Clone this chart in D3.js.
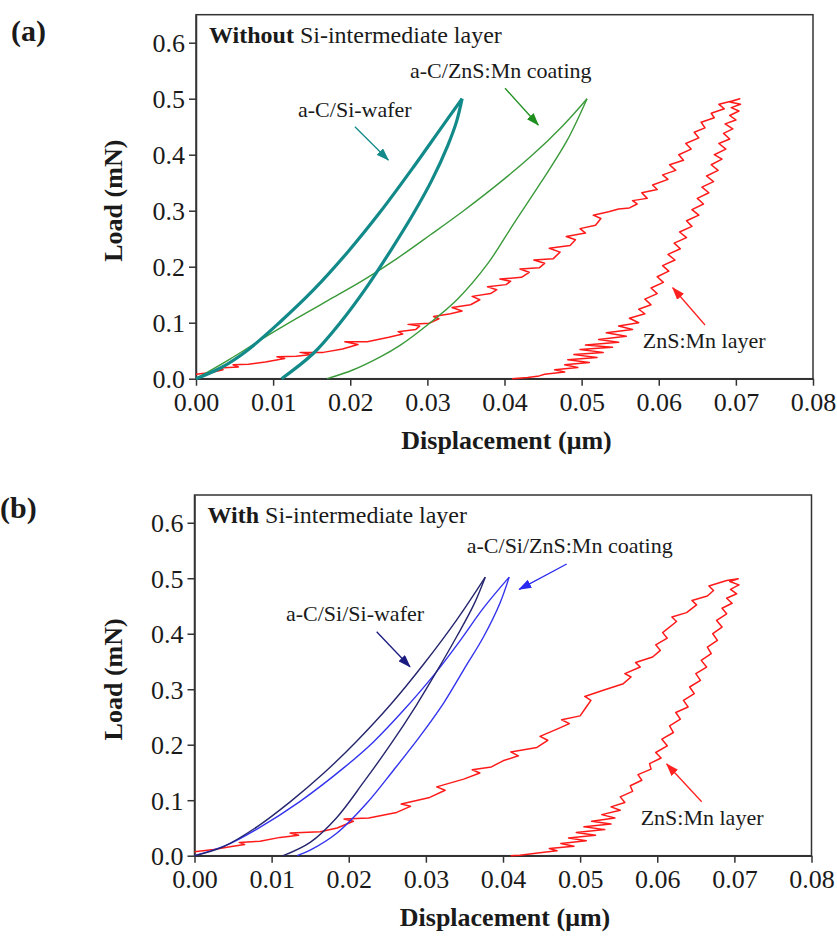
<!DOCTYPE html>
<html>
<head>
<meta charset="utf-8">
<script src="https://cdn.jsdelivr.net/npm/d3@7/dist/d3.min.js"></script>
<style>
  body { margin: 0; background: #fff; }
  svg text { font-family: "Liberation Serif", "Times New Roman", serif; fill: #1a1a1a; }
</style>
</head>
<body>
<svg id="chart" width="837" height="938"></svg>
<script>
'use strict';

// tick values
var xTicks = [0, 0.01, 0.02, 0.03, 0.04, 0.05, 0.06, 0.07, 0.08];
var yTicks = [0, 0.1, 0.2, 0.3, 0.4, 0.5, 0.6];

// (a) without Si-intermediate layer  -- [displacement um, load mN]
var aCSiWaferLoad = [[0,0],[0.0033,0.02],[0.0066,0.05],[0.0108,0.1],[0.0152,0.158],[0.0196,0.225],
  [0.0239,0.298],[0.0282,0.378],[0.0318,0.448],[0.0345,0.5]];
var aCSiWaferUnload = [[0.0345,0.5],[0.0338,0.46],[0.0326,0.415],[0.0306,0.355],[0.0282,0.295],
  [0.0252,0.228],[0.0222,0.165],[0.0187,0.10],[0.0152,0.045],[0.0111,0]];
var aCZnSLoad = [[0,0],[0.0044,0.035],[0.0087,0.072],[0.0131,0.108],[0.0174,0.142],[0.0217,0.176],
  [0.0261,0.215],[0.0304,0.257],[0.0347,0.300],[0.0391,0.347],[0.0435,0.398],[0.0475,0.451],[0.0507,0.5]];
var aCZnSUnload = [[0.0507,0.5],[0.0481,0.425],[0.0447,0.35],[0.0412,0.277],[0.0378,0.205],
  [0.0339,0.142],[0.030,0.096],[0.0265,0.06],[0.0239,0.039],[0.0204,0.016],[0.017,0]];
var znsLayerA = [[0,0.008],[0.002,0.011],[0.0035,0.016],[0.003,0.019],[0.0055,0.021],[0.0048,0.025],
  [0.0068,0.026],[0.009,0.03],[0.0115,0.036],[0.0105,0.039],[0.013,0.04],[0.015,0.043],[0.0135,0.047],
  [0.0165,0.047],[0.019,0.053],[0.021,0.061],[0.0193,0.066],[0.0222,0.066],[0.025,0.074],[0.0268,0.08],
  [0.0262,0.084],[0.0285,0.088],[0.029,0.094],[0.0275,0.097],[0.0302,0.099],[0.0315,0.107],[0.0308,0.111],
  [0.033,0.116],[0.0345,0.121],[0.0332,0.127],[0.0356,0.132],[0.0368,0.141],[0.0358,0.147],[0.0382,0.152],
  [0.039,0.159],[0.0378,0.164],[0.0402,0.168],[0.0408,0.174],[0.0394,0.178],[0.0422,0.181],[0.0432,0.19],
  [0.042,0.196],[0.0445,0.198],[0.0452,0.206],[0.0438,0.212],[0.0463,0.214],[0.0472,0.226],[0.0458,0.233],
  [0.0485,0.238],[0.0492,0.248],[0.048,0.254],[0.0505,0.26],[0.0498,0.268],[0.0518,0.274],[0.0525,0.286],
  [0.0515,0.292],[0.0535,0.298],[0.0548,0.303],[0.0562,0.305],[0.0572,0.312],[0.0566,0.318],[0.0585,0.322],
  [0.0578,0.332],[0.0598,0.338],[0.0592,0.346],[0.0612,0.356],[0.0605,0.364],[0.0622,0.372],[0.0614,0.382],
  [0.0632,0.39],[0.0626,0.4],[0.0642,0.41],[0.0635,0.42],[0.0652,0.43],[0.0646,0.44],[0.066,0.448],
  [0.0655,0.458],[0.0672,0.466],[0.0668,0.474],[0.0685,0.482],[0.0678,0.49],[0.0695,0.496],[0.0705,0.5],
  [0.0692,0.494],[0.0706,0.49],[0.0694,0.484],[0.0704,0.478],[0.0692,0.47],[0.07,0.462],[0.0686,0.455],
  [0.0696,0.446],[0.0684,0.438],[0.0692,0.428],[0.0678,0.42],[0.0687,0.41],[0.0672,0.4],[0.0682,0.392],
  [0.0668,0.382],[0.0677,0.372],[0.0662,0.362],[0.0671,0.352],[0.0656,0.342],[0.0665,0.332],[0.065,0.322],
  [0.0658,0.312],[0.0643,0.302],[0.0652,0.292],[0.0636,0.282],[0.0643,0.272],[0.0627,0.262],[0.0636,0.252],
  [0.062,0.242],[0.0628,0.232],[0.0612,0.222],[0.0621,0.212],[0.0605,0.202],[0.0613,0.192],[0.0598,0.182],
  [0.0606,0.172],[0.059,0.162],[0.0598,0.152],[0.0582,0.142],[0.059,0.132],[0.0574,0.124],[0.0582,0.116],
  [0.0562,0.108],[0.0574,0.1],[0.0548,0.094],[0.0566,0.088],[0.0532,0.082],[0.0558,0.076],[0.0522,0.07],
  [0.0548,0.065],[0.0505,0.06],[0.054,0.056],[0.0498,0.052],[0.0528,0.047],[0.049,0.043],[0.052,0.038],
  [0.0482,0.034],[0.051,0.029],[0.0478,0.025],[0.0495,0.02],[0.0465,0.016],[0.0478,0.012],[0.0452,0.008],
  [0.0445,0.005],[0.043,0.002],[0.041,0]];

// (b) with Si-intermediate layer
var aCSiSiLoad = [[0,0],[0.0037,0.016],[0.0081,0.052],[0.0124,0.097],[0.0167,0.148],[0.021,0.206],
  [0.0254,0.272],[0.0297,0.345],[0.034,0.425],[0.0377,0.502]];
var aCSiSiUnload = [[0.0377,0.502],[0.0362,0.452],[0.034,0.395],[0.0314,0.332],[0.0288,0.272],
  [0.0254,0.2],[0.0219,0.132],[0.0184,0.068],[0.015,0.024],[0.0115,0]];
var aCSiZnSLoad = [[0,0],[0.004,0.018],[0.0081,0.048],[0.0137,0.098],[0.0195,0.16],[0.0232,0.205],
  [0.0271,0.262],[0.031,0.325],[0.0343,0.385],[0.0375,0.447],[0.0408,0.502]];
var aCSiZnSUnload = [[0.0408,0.502],[0.0396,0.455],[0.0375,0.395],[0.0349,0.335],[0.0323,0.275],
  [0.0292,0.2145],[0.0258,0.154],[0.0223,0.094],[0.0184,0.040],[0.015,0.010],[0.0133,0]];
var znsLayerB = [[0,0.007],[0.0025,0.011],[0.0046,0.016],[0.0065,0.02],[0.0058,0.024],[0.0085,0.026],
  [0.0111,0.033],[0.0135,0.037],[0.0124,0.041],[0.0163,0.043],[0.0185,0.05],[0.0206,0.062],[0.0194,0.066],
  [0.0226,0.068],[0.0262,0.078],[0.028,0.089],[0.0268,0.093],[0.0305,0.105],[0.0325,0.118],[0.0314,0.124],
  [0.0349,0.138],[0.037,0.149],[0.036,0.155],[0.0385,0.16],[0.04,0.171],[0.042,0.18],[0.041,0.187],
  [0.0444,0.195],[0.0458,0.208],[0.0448,0.215],[0.047,0.228],[0.0486,0.238],[0.0476,0.245],[0.05,0.252],
  [0.0508,0.268],[0.0514,0.28],[0.0506,0.287],[0.053,0.298],[0.0556,0.31],[0.0566,0.322],[0.0558,0.328],
  [0.0578,0.34],[0.0572,0.348],[0.0594,0.358],[0.0604,0.37],[0.0598,0.38],[0.0613,0.392],[0.0607,0.402],
  [0.0625,0.422],[0.0619,0.43],[0.0638,0.438],[0.0651,0.452],[0.0645,0.46],[0.0665,0.468],[0.0673,0.478],
  [0.0667,0.486],[0.069,0.496],[0.0705,0.499],
  [0.0694,0.494],[0.0706,0.488],[0.0695,0.48],[0.0703,0.472],[0.069,0.464],[0.0697,0.455],[0.0684,0.446],
  [0.069,0.436],[0.0677,0.424],[0.0684,0.412],[0.0672,0.4],[0.0678,0.388],[0.0665,0.376],[0.067,0.364],
  [0.0657,0.352],[0.0664,0.34],[0.065,0.328],[0.0656,0.316],[0.0642,0.304],[0.0648,0.292],[0.0634,0.28],
  [0.064,0.268],[0.0624,0.258],[0.063,0.246],[0.0616,0.234],[0.0621,0.222],[0.0606,0.21],[0.0613,0.198],
  [0.0598,0.186],[0.0605,0.176],[0.059,0.166],[0.0592,0.156],[0.0575,0.146],[0.058,0.136],[0.0565,0.126],
  [0.0568,0.116],[0.0552,0.106],[0.0558,0.096],[0.054,0.088],[0.0552,0.082],[0.0528,0.074],[0.0545,0.068],
  [0.0515,0.062],[0.054,0.057],[0.0505,0.052],[0.0532,0.047],[0.0495,0.042],[0.052,0.037],[0.0485,0.032],
  [0.0508,0.027],[0.0475,0.022],[0.0492,0.017],[0.046,0.013],[0.047,0.009],[0.0445,0.005],[0.0422,0.001],
  [0.041,0]];

var svg = d3.select('#chart');

// arrow heads, one per colour
var defs = svg.append('defs');
['#138a8a', '#1f8f1f', '#ff2020', '#1a1a80', '#2a2af0'].forEach(function (c, i) {
  defs.append('marker').attr('id', 'ah' + i).attr('markerUnits', 'userSpaceOnUse')
    .attr('markerWidth', 13).attr('markerHeight', 9).attr('refX', 12).attr('refY', 4.5)
    .attr('orient', 'auto')
    .append('path').attr('d', 'M0,0 L13,4.5 L0,9 Z').attr('fill', c);
});

function drawPanel(p) {
  var x = d3.scaleLinear().domain([0, 0.08]).range([p.left, p.right]);
  var y = d3.scaleLinear().domain([0, 0.65]).range([p.bottom, p.top]);
  var g = svg.append('g');

  g.append('rect').attr('x', p.left).attr('y', p.top)
    .attr('width', p.right - p.left).attr('height', p.bottom - p.top)
    .attr('fill', 'none').attr('stroke', '#333').attr('stroke-width', 1.5);

  var xAxis = g.append('g').attr('transform', 'translate(0,' + p.bottom + ')')
    .call(d3.axisBottom(x).tickValues(xTicks).tickFormat(d3.format('.2f'))
      .tickSize(7).tickSizeOuter(0).tickPadding(7));
  var yAxis = g.append('g').attr('transform', 'translate(' + p.left + ',0)')
    .call(d3.axisLeft(y).tickValues(yTicks).tickFormat(d3.format('.1f'))
      .tickSize(7).tickSizeOuter(0).tickPadding(4));
  [xAxis, yAxis].forEach(function (a) {
    a.attr('font-family', '"Liberation Serif", serif').attr('font-size', 26);
    a.select('.domain').attr('stroke', '#333').attr('stroke-width', 1.5);
    a.selectAll('.tick line').attr('stroke', '#333').attr('stroke-width', 1.5);
    a.selectAll('.tick text').attr('fill', '#1a1a1a');
  });
  yAxis.selectAll('.tick text').attr('dy', '0.34em');

  // curves
  p.series.forEach(function (s) {
    var line = d3.line().x(function (d) { return x(d[0]); }).y(function (d) { return y(d[1]); })
      .curve(s.jagged ? d3.curveLinear : d3.curveCatmullRom.alpha(0.5));
    g.append('path').datum(s.data).attr('d', line)
      .attr('fill', 'none').attr('stroke', s.color).attr('stroke-width', s.width)
      .attr('stroke-linejoin', 'round');
  });

  // annotations
  p.notes.forEach(function (n) {
    g.append('text').attr('x', x(n.at[0])).attr('y', y(n.at[1]))
      .attr('font-size', 22).text(n.text);
    g.append('line').attr('x1', x(n.from[0])).attr('y1', y(n.from[1]))
      .attr('x2', x(n.to[0])).attr('y2', y(n.to[1]))
      .attr('stroke', n.color).attr('stroke-width', 1.3)
      .attr('marker-end', 'url(#ah' + n.marker + ')');
  });

  var t = g.append('text').attr('x', p.left + 13).attr('y', p.top + 28).attr('font-size', 24);
  t.append('tspan').attr('font-weight', 'bold').text(p.titleBold);
  t.append('tspan').text(' Si-intermediate layer');

  g.append('text').attr('x', p.tagX).attr('y', p.tagY).attr('font-size', 30)
    .attr('font-weight', 'bold').text(p.tag);

  g.append('text').attr('x', (p.left + p.right) / 2 + 2).attr('y', p.bottom + 70)
    .attr('text-anchor', 'middle').attr('font-size', 26).attr('font-weight', 'bold')
    .text('Displacement (\u03bcm)');
  g.append('text').attr('transform', 'translate(122,' + ((p.top + p.bottom) / 2 + 4) + ') rotate(-90)')
    .attr('text-anchor', 'middle').attr('font-size', 26).attr('font-weight', 'bold')
    .text('Load (mN)');
}

drawPanel({
  left: 196, right: 813, top: 14.7, bottom: 378.7, tag: '(a)', tagX: 11, tagY: 41, titleBold: 'Without',
  series: [
    { data: znsLayerA, color: '#ff1a1a', width: 1.5, jagged: true },
    { data: aCZnSLoad, color: '#3a9a3a', width: 1.4 },
    { data: aCZnSUnload, color: '#3a9a3a', width: 1.4 },
    { data: aCSiWaferLoad, color: '#138a8a', width: 3.2 },
    { data: aCSiWaferUnload, color: '#138a8a', width: 3.2 }
  ],
  notes: [
    { text: 'a-C/Si-wafer', at: [0.01323, 0.468], from: [0.0206, 0.45], to: [0.02494, 0.3905], color: '#138a8a', marker: 0 },
    { text: 'a-C/ZnS:Mn coating', at: [0.02775, 0.5364], from: [0.04007, 0.5186], to: [0.04438, 0.453], color: '#1f8f1f', marker: 1 },
    { text: 'ZnS:Mn layer', at: [0.05792, 0.0543], from: [0.066, 0.0959], to: [0.06181, 0.1625], color: '#ff2020', marker: 2 }
  ]
});

drawPanel({
  left: 194.5, right: 811.5, top: 495, bottom: 855.7, tag: '(b)', tagX: 0, tagY: 518, titleBold: 'With',
  series: [
    { data: znsLayerB, color: '#ff1a1a', width: 1.5, jagged: true },
    { data: aCSiZnSLoad, color: '#3333ee', width: 1.4 },
    { data: aCSiZnSUnload, color: '#3333ee', width: 1.4 },
    { data: aCSiSiLoad, color: '#25256e', width: 1.4 },
    { data: aCSiSiUnload, color: '#25256e', width: 1.4 }
  ],
  notes: [
    { text: 'a-C/Si/ZnS:Mn coating', at: [0.0353, 0.546], from: [0.04826, 0.5256], to: [0.04211, 0.48], color: '#2a2af0', marker: 4 },
    { text: 'a-C/Si/Si-wafer', at: [0.01186, 0.4234], from: [0.02362, 0.4036], to: [0.02794, 0.3405], color: '#1a1a80', marker: 3 },
    { text: 'ZnS:Mn layer', at: [0.05785, 0.0553], from: [0.06576, 0.0973], to: [0.06122, 0.1652], color: '#ff2020', marker: 2 }
  ]
});
</script>
</body>
</html>
